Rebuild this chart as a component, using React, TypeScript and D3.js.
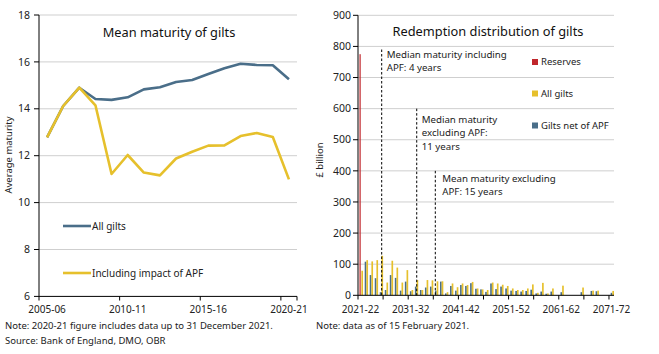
import React from 'react';
import * as d3 from 'd3';

// Left panel: mean maturity of gilts (years)
const fiscalYears = [
  '2005-06', '2006-07', '2007-08', '2008-09', '2009-10', '2010-11', '2011-12', '2012-13',
  '2013-14', '2014-15', '2015-16', '2016-17', '2017-18', '2018-19', '2019-20', '2020-21',
];
const allGiltsMaturity = [12.78, 14.12, 14.9, 14.42, 14.38, 14.49, 14.83, 14.92, 15.14, 15.23, 15.48, 15.73, 15.92, 15.87, 15.86, 15.26];
const inclApfMaturity = [12.78, 14.12, 14.9, 14.15, 11.22, 12.03, 11.28, 11.16, 11.88, 12.17, 12.43, 12.44, 12.84, 12.97, 12.8, 10.99];
const leftTickLabels = ['2005-06', '2010-11', '2015-16', '2020-21'];
const leftYTicks = [6, 8, 10, 12, 14, 16, 18];

// Right panel: redemption distribution (£ billion)
const redemptionYears = [
  '2021-22', '2022-23', '2023-24', '2024-25', '2025-26', '2026-27', '2027-28', '2028-29', '2029-30', '2030-31',
  '2031-32', '2032-33', '2033-34', '2034-35', '2035-36', '2036-37', '2037-38', '2038-39', '2039-40', '2040-41',
  '2041-42', '2042-43', '2043-44', '2044-45', '2045-46', '2046-47', '2047-48', '2048-49', '2049-50', '2050-51',
  '2051-52', '2052-53', '2053-54', '2054-55', '2055-56', '2056-57', '2057-58', '2058-59', '2059-60', '2060-61',
  '2061-62', '2062-63', '2063-64', '2064-65', '2065-66', '2066-67', '2067-68', '2068-69', '2069-70', '2070-71',
  '2071-72',
];
const reserves = [775, 0, 0, 0, 0, 0, 0, 0, 0, 0, 0, 0, 0, 0, 0, 0, 0, 0, 0, 0, 0, 0, 0, 0, 0, 0, 0, 0, 0, 0, 0, 0, 0, 0, 0, 0, 0, 0, 0, 0, 0, 0, 0, 0, 0, 0, 0, 0, 0, 0, 0];
const allGilts = [
  79, 113, 109, 113, 127, 41, 111, 89, 41, 81,
  17, 49, 17, 49, 48, 45, 45, 10, 38, 26,
  38, 33, 43, 22, 19, 17, 41, 38, 34, 30,
  22, 17, 17, 22, 35, 8, 40, 6, 22, 0,
  31, 0, 0, 0, 25, 0, 15, 15, 0, 0,
  14,
];
const giltsNetApf = [
  0, 108, 65, 55, 10, 17, 65, 56, 15, 44,
  13, 28, 17, 25, 28, 15, 44, 6, 30, 15,
  33, 30, 39, 21, 19, 11, 38, 20, 28, 22,
  15, 14, 12, 14, 18, 6, 12, 5, 12, 0,
  10, 0, 0, 0, 10, 0, 14, 13, 0, 0,
  8,
];
const rightTickLabels = ['2021-22', '2031-32', '2041-42', '2051-52', '2061-62', '2071-72'];
const rightYTicks = [0, 100, 200, 300, 400, 500, 600, 700, 800, 900];
// dashed reference lines: position in years from start, height in £bn
const markerPos = [4.72, 11.7, 15.4];
const markerTop = [790, 600, 400];
const markerText = [
  ['Median maturity including', 'APF: 4 years'],
  ['Median maturity', 'excluding APF:', '11 years'],
  ['Mean maturity excluding', 'APF: 15 years'],
];
const markerTextDx = [5, 5, 7];
const markerTextDy = [5, 11, 7.5];

const BLUE = '#4a6e89';
const YELLOW = '#e6c02c';
const RED = '#c0262b';
const FONT = "'Noto Sans', sans-serif";

export default function App() {
  // left scales
  const lx = d3.scaleBand<string>().domain(fiscalYears).range([39, 297]);
  const ly = d3.scaleLinear().domain([6, 18]).range([296.4, 15]);
  const lineGen = (vals: number[]) =>
    d3.line<number>()
      .x((_, i) => (lx(fiscalYears[i]) as number) + lx.bandwidth() / 2)
      .y(d => ly(d))(vals) as string;

  // right scales
  const rx = d3.scaleBand<string>().domain(redemptionYears).range([358, 614]);
  const sub = d3.scaleBand<string>().domain(['reserves', 'net', 'all']).range([0, rx.bandwidth()]);
  const ry = d3.scaleLinear().domain([0, 900]).range([295.3, 15.3]);
  const rLin = d3.scaleLinear().domain([0, redemptionYears.length]).range([358, 614]);

  const seriesBars = [
    { key: 'net', vals: giltsNetApf, color: BLUE },
    { key: 'all', vals: allGilts, color: YELLOW },
  ];

  return (
    <svg width={659} height={354} style={{ position: 'absolute', left: 0, top: 0, background: '#fff' }} fontFamily={FONT}>
      {/* ---------- left panel ---------- */}
      {leftYTicks.slice(1).map(t => (
        <line key={'lg' + t} x1={39} x2={297} y1={ly(t)} y2={ly(t)} stroke="#cfcfcf" strokeWidth={1} />
      ))}
      {leftYTicks.map(t => (
        <g key={'lt' + t}>
          <line x1={34} x2={39} y1={ly(t)} y2={ly(t)} stroke="#000" />
          <text x={30} y={ly(t)} dy="0.35em" textAnchor="end" fontSize={10.5} fill="#222">{t}</text>
        </g>
      ))}
      <line x1={39} x2={39} y1={15} y2={296.4} stroke="#000" />
      <line x1={39} x2={297} y1={296.4} y2={296.4} stroke="#000" />
      {[0, 5, 10, 15, 16].map(i => (
        <line key={'lxt' + i} x1={39 + i * lx.bandwidth()} x2={39 + i * lx.bandwidth()} y1={296.4} y2={300.5} stroke="#000" />
      ))}
      {leftTickLabels.map(l => (
        <text key={l} x={(lx(l) as number) + lx.bandwidth() / 2} y={309} dy="0.35em" textAnchor="middle" fontSize={10} fill="#222">{l}</text>
      ))}
      <text transform="translate(9,155) rotate(-90)" textAnchor="middle" dy="0.35em" fontSize={9.5} fill="#222">Average maturity</text>
      <text x={169} y={33} textAnchor="middle" dy="0.35em" fontSize={12.8} fill="#111">Mean maturity of gilts</text>

      <path d={lineGen(allGiltsMaturity)} fill="none" stroke={BLUE} strokeWidth={2.6} strokeLinejoin="round" />
      <path d={lineGen(inclApfMaturity)} fill="none" stroke={YELLOW} strokeWidth={2.6} strokeLinejoin="round" />

      <line x1={63} x2={91} y1={226} y2={226} stroke={BLUE} strokeWidth={2.6} />
      <text x={92} y={226} dy="0.35em" fontSize={10} fill="#222">All gilts</text>
      <line x1={63} x2={91} y1={273} y2={273} stroke={YELLOW} strokeWidth={2.6} />
      <text x={92} y={273} dy="0.35em" fontSize={10} fill="#222">Including impact of APF</text>

      {/* ---------- right panel ---------- */}
      {rightYTicks.slice(1).map(t => (
        <line key={'rg' + t} x1={358} x2={614} y1={ry(t)} y2={ry(t)} stroke="#cfcfcf" strokeWidth={1} />
      ))}
      {rightYTicks.map(t => (
        <g key={'rt' + t}>
          <line x1={353} x2={358} y1={ry(t)} y2={ry(t)} stroke="#000" />
          <text x={351} y={ry(t)} dy="0.35em" textAnchor="end" fontSize={10.5} fill="#222">{t}</text>
        </g>
      ))}
      <text transform="translate(320,160) rotate(-90)" textAnchor="middle" dy="0.35em" fontSize={9.5} fill="#222">£ billion</text>
      <text x={488} y={32} textAnchor="middle" dy="0.35em" fontSize={12.8} fill="#111">Redemption distribution of gilts</text>

      {seriesBars.map(s => (
        <g key={s.key} fill={s.color}>
          {s.vals.map((v, i) => v > 0 && (
            <rect key={i}
              x={(rx(redemptionYears[i]) as number) + (sub(s.key) as number)}
              y={ry(v)}
              width={sub.bandwidth()}
              height={ry(0) - ry(v)} />
          ))}
        </g>
      ))}
      {reserves.map((v, i) => v > 0 && (
        <rect key={'res' + i}
          x={(rx(redemptionYears[i]) as number) + (sub('reserves') as number) + 1.5}
          y={ry(v)} width={1.2} height={ry(0) - ry(v)} fill={RED} />
      ))}

      {markerPos.map((p, i) => (
        <g key={'m' + i}>
          <line x1={rLin(p)} x2={rLin(p)} y1={ry(markerTop[i])} y2={ry(0)} stroke="#000" strokeWidth={1} strokeDasharray="2.5,2" />
          {markerText[i].map((t, j) => (
            <text key={j} x={rLin(p) + markerTextDx[i]} y={ry(markerTop[i]) + markerTextDy[i] + j * 13.4} dy="0.35em" fontSize={9.7} fill="#222">{t}</text>
          ))}
        </g>
      ))}

      <line x1={358} x2={358} y1={15.3} y2={295.3} stroke="#000" />
      <line x1={358} x2={614} y1={295.3} y2={295.3} stroke="#000" />
      {d3.range(0, redemptionYears.length + 1, 5).map(i => (
        <line key={'rxt' + i} x1={rLin(i)} x2={rLin(i)} y1={295.3} y2={299.5} stroke="#000" />
      ))}
      {rightTickLabels.map(l => (
        <text key={l} x={(rx(l) as number) + rx.bandwidth() / 2} y={309} dy="0.35em" textAnchor="middle" fontSize={10} fill="#222">{l}</text>
      ))}

      {[
        { label: 'Reserves', color: RED, y: 62 },
        { label: 'All gilts', color: YELLOW, y: 93.5 },
        { label: 'Gilts net of APF', color: BLUE, y: 125.5 },
      ].map(d => (
        <g key={d.label}>
          <rect x={532} y={d.y - 3} width={6} height={6} fill={d.color} />
          <text x={541} y={d.y} dy="0.35em" fontSize={9.5} fill="#222">{d.label}</text>
        </g>
      ))}

      {/* notes */}
      <text x={5} y={326} dy="0.35em" fontSize={9.5} fill="#222">Note: 2020-21 figure includes data up to 31 December 2021.</text>
      <text x={316} y={326} dy="0.35em" fontSize={9.5} fill="#222">Note: data as of 15 February 2021.</text>
      <text x={5} y={341} dy="0.35em" fontSize={9.5} fill="#222">Source: Bank of England, DMO, OBR</text>
    </svg>
  );
}
